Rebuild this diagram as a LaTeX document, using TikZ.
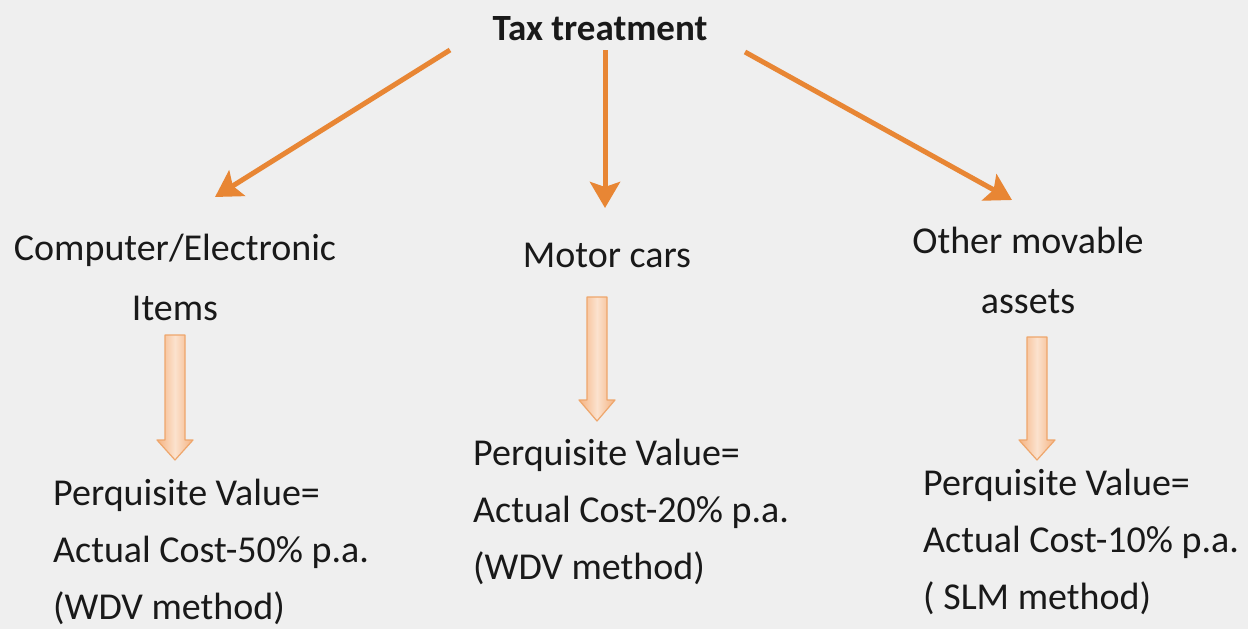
\documentclass[tikz,border=0pt]{standalone}
\usepackage{fontspec}
\setmainfont{Carlito}
\usetikzlibrary{arrows.meta}
\definecolor{bg}{RGB}{239,239,239}
\definecolor{linkorange}{RGB}{232,134,52}
\definecolor{blockedge}{RGB}{238,166,108}
\definecolor{blockside}{RGB}{245,178,128}
\definecolor{blockmid}{RGB}{251,226,206}
\definecolor{ink}{RGB}{25,25,25}

% vertical block arrow: centre x, top y, start of head y, tip y
\newcommand\downblock[4]{%
  \shade[left color=blockside, right color=blockside, middle color=blockmid,
         draw=blockedge, line width=1.2pt, line join=round]
    (#1-10,#2) -- (#1+10,#2) -- (#1+10,#3) -- (#1+18,#3) -- (#1,#4)
    -- (#1-18,#3) -- (#1-10,#3) -- cycle;}

\begin{document}
\begin{tikzpicture}[x=1pt,y=-1pt,
  link/.style={draw=linkorange, line width=5pt,
    -{Stealth[length=26pt,width=30pt,inset=5pt]}},
  heading/.style={font=\fontsize{37}{44}\selectfont\bfseries, text=ink, inner sep=0pt},
  category/.style={font=\fontsize{38}{60}\selectfont, text=ink, inner sep=0pt, align=center},
  result/.style={font=\fontsize{38}{57}\selectfont, text=ink, inner sep=0pt, align=left},
]
\fill[bg] (0,0) rectangle (1248,629);
\useasboundingbox (0,0) rectangle (1248,629);

% heading (anchors of multi-line nodes sit on the last baseline)
\node[heading, anchor=base] (title) at (600,40) {Tax treatment};

% asset categories
\node[category, anchor=base] (comp) at (175,320) {Computer/Electronic\\Items};
\node[category, anchor=base] (cars) at (607,267) {Motor cars};
\node[category, anchor=base] (other) at (1028,313) {Other movable\\assets};

% perquisite values
\node[result, anchor=base west] (compval) at (53,619)
  {Perquisite Value=\\Actual Cost-50\% p.a.\\(WDV method)};
\node[result, anchor=base west] (carsval) at (473,579)
  {Perquisite Value=\\Actual Cost-20\% p.a.\\(WDV method)};
\node[result, anchor=base west] (otherval) at (923,609)
  {Perquisite Value=\\Actual Cost-10\% p.a.\\( SLM method)};

% connectors from the heading
\coordinate (t1) at (450,50);
\coordinate (t2) at (605,50);
\coordinate (t3) at (745,52);
\coordinate (c1) at (215,197);
\coordinate (c2) at (605,208);
\coordinate (c3) at (1012,200);
\draw[link] (t1) -- (c1);
\draw[link] (t2) -- (c2);
\draw[link] (t3) -- (c3);

% block arrows down to the values
\downblock{175}{335}{440}{460}
\downblock{597}{297}{400}{421}
\downblock{1037}{337}{440}{460}
\end{tikzpicture}
\end{document}
